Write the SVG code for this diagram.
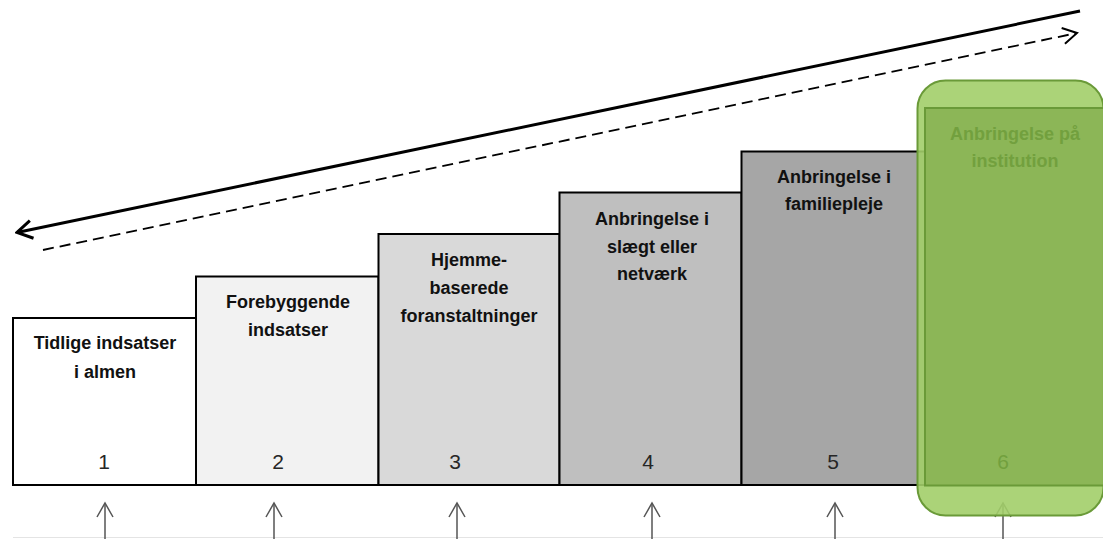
<svg xmlns="http://www.w3.org/2000/svg" width="1103" height="539" viewBox="0 0 1103 539">
<defs>
<style>
.box{stroke:#000;stroke-width:2}
.t{font-family:"Liberation Sans",Arial,sans-serif;font-weight:bold;font-size:18px;fill:#111;text-anchor:middle}
.n{font-family:"Liberation Sans",Arial,sans-serif;font-size:21px;fill:#262626;text-anchor:middle}
.g{fill:#72a03e}
.up{stroke:#555;stroke-width:1.5;fill:none}
</style>
<marker id="mSolid" markerUnits="userSpaceOnUse" viewBox="-18 -11 20 22" markerWidth="20" markerHeight="22" refX="0" refY="0" orient="auto">
<path d="M-15,-9 L0,0 L-15,9" fill="none" stroke="#000" stroke-width="3" stroke-linejoin="miter"/>
</marker>
<marker id="mDash" markerUnits="userSpaceOnUse" viewBox="-16 -10 18 20" markerWidth="18" markerHeight="20" refX="0" refY="0" orient="auto">
<path d="M-14,-8 L0,0 L-14,8" fill="none" stroke="#000" stroke-width="2"/>
</marker>
<marker id="mUp" markerUnits="userSpaceOnUse" viewBox="-16 -10 18 20" markerWidth="18" markerHeight="20" refX="0" refY="0" orient="auto">
<path d="M-14,-8 L0,0 L-14,8" fill="none" stroke="#555" stroke-width="1.5"/>
</marker>
</defs>
<rect width="1103" height="539" fill="#fff"/>
<line x1="13" y1="537.5" x2="1103" y2="537.5" stroke="#e4e4e4" stroke-width="1"/>
<g id="connectors">
<line x1="1080" y1="11" x2="17" y2="232.5" stroke="#000" stroke-width="3" marker-end="url(#mSolid)"/>
<line x1="43" y1="250" x2="1077" y2="33" stroke="#000" stroke-width="1.8" stroke-dasharray="11 6" marker-end="url(#mDash)"/>
<line class="up" x1="105" y1="539" x2="105" y2="503" marker-end="url(#mUp)"/>
<line class="up" x1="274" y1="539" x2="274" y2="503" marker-end="url(#mUp)"/>
<line class="up" x1="457" y1="539" x2="457" y2="503" marker-end="url(#mUp)"/>
<line class="up" x1="652" y1="539" x2="652" y2="503" marker-end="url(#mUp)"/>
<line class="up" x1="835" y1="539" x2="835" y2="503" marker-end="url(#mUp)"/>
<line class="up" x1="1003" y1="539" x2="1003" y2="503" marker-end="url(#mUp)"/>
</g>
<g id="node1">
<rect class="box" x="13" y="318" width="183" height="167" fill="#ffffff"/>
<text class="t" x="105" y="349">Tidlige indsatser</text>
<text class="t" x="105" y="378">i almen</text>
<text class="n" x="104" y="469">1</text>
</g>
<g id="node2">
<rect class="box" x="196" y="276.5" width="182.5" height="208.5" fill="#f2f2f2"/>
<text class="t" x="288" y="308">Forebyggende</text>
<text class="t" x="288" y="336">indsatser</text>
<text class="n" x="278" y="469">2</text>
</g>
<g id="node3">
<rect class="box" x="378.5" y="234" width="181" height="251" fill="#d9d9d9"/>
<text class="t" x="469" y="266">Hjemme-</text>
<text class="t" x="469" y="294">baserede</text>
<text class="t" x="469" y="322">foranstaltninger</text>
<text class="n" x="455" y="469">3</text>
</g>
<g id="node4">
<rect class="box" x="559.5" y="192.5" width="182" height="292.5" fill="#bfbfbf"/>
<text class="t" x="652" y="225">Anbringelse i</text>
<text class="t" x="652" y="253">slægt eller</text>
<text class="t" x="652" y="280">netværk</text>
<text class="n" x="648" y="469">4</text>
</g>
<g id="node5">
<rect class="box" x="741.5" y="151.5" width="183.5" height="333.5" fill="#a6a6a6"/>
<text class="t" x="834" y="183">Anbringelse i</text>
<text class="t" x="834" y="210">familiepleje</text>
<text class="n" x="833" y="469">5</text>
</g>
<g id="node6">
<rect x="917.5" y="80.5" width="186" height="435" rx="28" ry="28" fill="#a2ce69" fill-opacity="0.9" stroke="#6a9a38" stroke-width="2"/>
<rect x="925" y="108" width="190" height="377.5" fill="#8ab455" fill-opacity="0.95" stroke="#6a9a38" stroke-width="2"/>
<text class="t g" x="1015" y="140">Anbringelse på</text>
<text class="t g" x="1015" y="167">institution</text>
<text class="n g" x="1003" y="469">6</text>
</g>
</svg>
